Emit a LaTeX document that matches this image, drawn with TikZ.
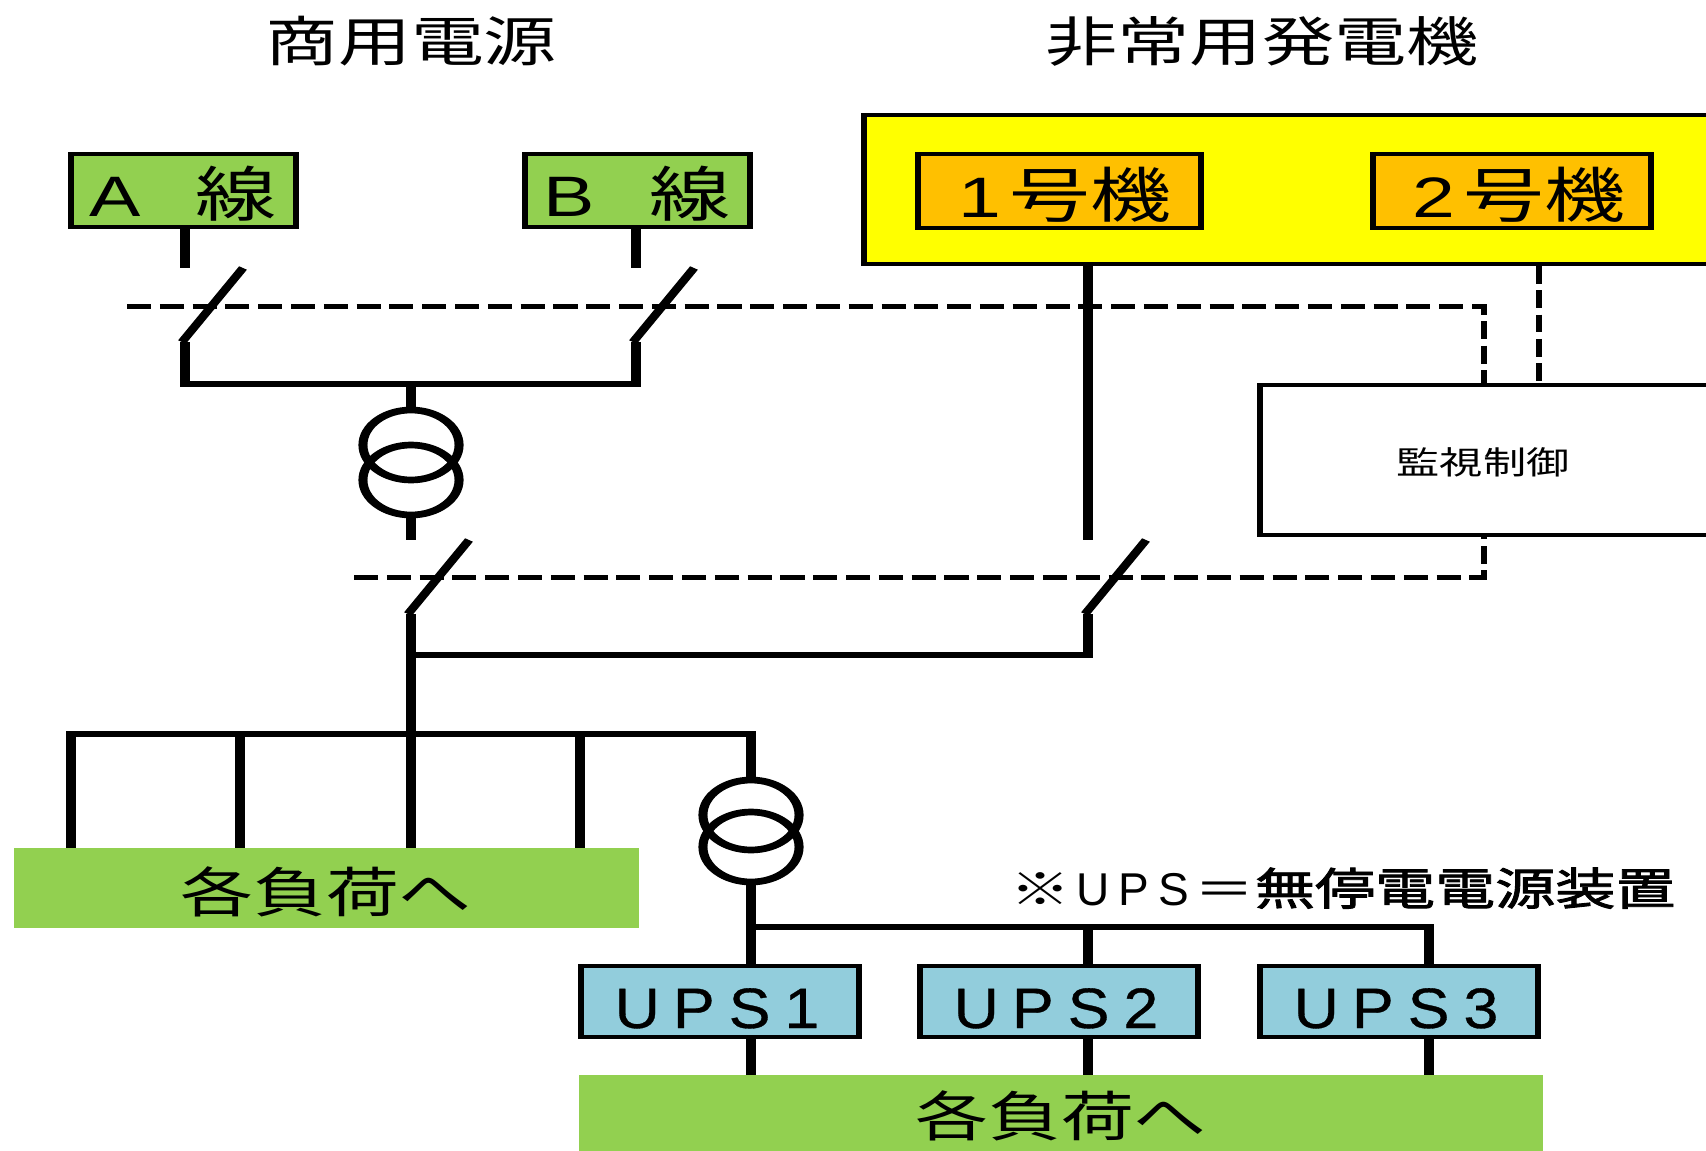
\documentclass[tikz,border=0pt]{standalone}
\usepackage{fontspec}
\setmainfont{Liberation Sans}
\newfontfamily\jp[FakeStretch=1.35]{Noto Sans CJK JP}
\newfontfamily\jpb[FakeStretch=1.35,FakeBold=2]{Noto Sans CJK JP}
\newfontfamily\lat[FakeStretch=1.35]{Liberation Sans}
\newfontfamily\latu[FakeStretch=1.1,FakeBold=0.6]{Liberation Sans}
\newfontfamily\latn{Liberation Sans}
\newcommand\fsz[1]{\fontsize{#1}{#1}\selectfont}
\definecolor{lgreen}{HTML}{92D050}
\definecolor{genyel}{HTML}{FFFF00}
\definecolor{genor}{HTML}{FFC000}
\definecolor{upsblue}{HTML}{92CDDC}
\begin{document}
\begin{tikzpicture}[x=1pt,y=-1pt,
  wire/.style={line width=6.7pt},
  ctrl/.style={line width=5pt, dash pattern=on 17.8pt off 6.5pt},
  box/.style={draw=black, line width=4.4pt, inner sep=0pt, outer sep=0pt, rectangle},
  plain/.style={inner sep=0pt, outer sep=0pt, rectangle},
  lbl/.style={anchor=base, inner sep=0pt, outer sep=0pt},
  tr/.style={line width=6.7pt, x radius=35.6pt, y radius=35pt}
]
\useasboundingbox (0,0) rectangle (1706,1151);
\clip (0,0) rectangle (1706,1151);
\fill[white] (0,0) rectangle (1706,1151);

% ===== drawing stretched horizontally like the original =====
\begin{scope}[transform canvas={xscale=1.35}, x=0.7407407pt, y=-1pt]
% ---------- named coordinates ----------
\coordinate (dashA) at (127,306);
\coordinate (mTopL) at (1484,383);
\coordinate (dashB) at (354,577);
\coordinate (mBot) at (1484,537);
\coordinate (g2bot) at (1539,266);
\coordinate (mTopR) at (1539,383);

\coordinate (aTop) at (185,229);   \coordinate (aSw) at (185,268);
\coordinate (aD1) at (243,268);    \coordinate (aD2) at (182,342);
\coordinate (aLow) at (185,342);   \coordinate (abL) at (185,384);
\coordinate (bTop) at (636,229);   \coordinate (bSw) at (636,268);
\coordinate (bD1) at (694,268);    \coordinate (bD2) at (633,342);
\coordinate (bLow) at (636,342);   \coordinate (abR) at (636,384);
\coordinate (t1in) at (411,384);   \coordinate (t1top) at (411,410);
\coordinate (t1c1) at (411,445);   \coordinate (t1c2) at (411,480);
\coordinate (t1bot) at (411,515);  \coordinate (t1sw) at (411,540);
\coordinate (cD1) at (469,540);    \coordinate (cD2) at (408,614);
\coordinate (cLow) at (411,614);   \coordinate (tie) at (411,655);
\coordinate (gTop) at (1088,266);  \coordinate (gSw) at (1088,540);
\coordinate (gD1) at (1146,540);   \coordinate (gD2) at (1085,614);
\coordinate (gLow) at (1088,614);  \coordinate (gTie) at (1088,655);
\coordinate (busM) at (411,734);
\coordinate (f1) at (71,849);      \coordinate (f1b) at (71,734);
\coordinate (f2) at (240,849);     \coordinate (f2b) at (240,734);
\coordinate (f3) at (411,849);
\coordinate (f4) at (580,849);     \coordinate (f4b) at (580,734);
\coordinate (busR) at (751,734);   \coordinate (t2top) at (751,780);
\coordinate (t2c1) at (751,815);   \coordinate (t2c2) at (751,847);
\coordinate (t2bot) at (751,882);  \coordinate (u1in) at (751,964);
\coordinate (ub1) at (751,927);    \coordinate (ub2) at (1088,927);
\coordinate (ub3) at (1429,927);
\coordinate (u2in) at (1088,964);  \coordinate (u3in) at (1429,964);
\coordinate (u1out) at (751,1039); \coordinate (u2out) at (1088,1039);
\coordinate (u3out) at (1429,1039);
\coordinate (l21) at (751,1076);   \coordinate (l22) at (1088,1076);
\coordinate (l23) at (1429,1076);

% ---------- control (dashed) lines ----------
\draw[ctrl] (dashA) -| (mTopL);
\draw[ctrl] (dashB) -| (mBot);
\draw[ctrl] (g2bot) -- (mTopR);

% ---------- power wires ----------
\draw[wire] (aTop) -- (aSw);
\draw[wire] (aD1) -- (aD2);
\draw[wire] (aLow) -- (abL) -- (abR) -- (bLow);
\draw[wire] (bTop) -- (bSw);
\draw[wire] (bD1) -- (bD2);
\draw[wire] (t1in) -- (t1top);
\draw[tr] (t1c1) ellipse [];
\draw[tr] (t1c2) ellipse [];
\draw[wire] (t1bot) -- (t1sw);
\draw[wire] (cD1) -- (cD2);
\draw[wire] (cLow) -- (busM);
\draw[wire] (tie) -- (gTie) -- (gLow);
\draw[wire] (gTop) -- (gSw);
\draw[wire] (gD1) -- (gD2);
\draw[wire] (f1) -- (f1b) -- (busR) -- (t2top);
\draw[wire] (f2b) -- (f2);
\draw[wire] (busM) -- (f3);
\draw[wire] (f4b) -- (f4);
\draw[tr] (t2c1) ellipse [];
\draw[tr] (t2c2) ellipse [];
\draw[wire] (t2bot) -- (u1in);
\draw[wire] (ub1) -- (ub3) -- (u3in);
\draw[wire] (ub2) -- (u2in);
\draw[wire] (u1out) -- (l21);
\draw[wire] (u2out) -- (l22);
\draw[wire] (u3out) -- (l23);

% ---------- boxes ----------
\node[box, fill=lgreen, minimum width=166.7pt, minimum height=72.6pt] (lineA) at (183.5,190.5) {};
\node[box, fill=lgreen, minimum width=166.7pt, minimum height=72.6pt] (lineB) at (637.5,190.5) {};
\node[box, fill=genyel, minimum width=628.2pt, minimum height=148.6pt] (genbox) at (1288,189.5) {};
\node[box, fill=genor, minimum width=209.7pt, minimum height=73.6pt] (gen1) at (1059.5,191) {};
\node[box, fill=genor, minimum width=206pt, minimum height=73.6pt] (gen2) at (1512,191) {};
\node[box, fill=white, minimum width=334.9pt, minimum height=149.6pt] (mon) at (1486,460) {};
\node[plain, fill=lgreen, minimum width=463pt, minimum height=80pt] (load1) at (326.5,888) {};
\node[plain, fill=lgreen, minimum width=714pt, minimum height=82pt] (load2) at (1061,1116) {};
\node[box, fill=upsblue, minimum width=206pt, minimum height=70.6pt] (ups1) at (720,1001.5) {};
\node[box, fill=upsblue, minimum width=206pt, minimum height=70.6pt] (ups2) at (1059,1001.5) {};
\node[box, fill=upsblue, minimum width=206pt, minimum height=70.6pt] (ups3) at (1399,1001.5) {};
\end{scope}

% ---------- texts ----------
\node[lbl] (title1) at (411,61) {\jp\fsz{54}商用電源};
\node[lbl] (title2) at (1262,61) {\jp\fsz{53.5}非常用発電機};
\node[lbl] (txtA) at (183,216) {{\lat\fsz{57}A}\hspace{55pt}{\jp\fsz{60}線}};
\node[lbl] (txtB) at (637,216) {{\lat\fsz{57}B}\hspace{55pt}{\jp\fsz{60}線}};
\node[anchor=base west, inner sep=0pt] (txtG1) at (958,217) {{\lat\fsz{57}1}\hspace{8pt}{\jp\fsz{60}号機}};
\node[anchor=base west, inner sep=0pt] (txtG2) at (1412,217) {{\lat\fsz{57}2}\hspace{8pt}{\jp\fsz{60}号機}};
\node[lbl] (txtMon) at (1483,474) {\jp\fsz{32}監視制御};
\node[lbl] (txtL1) at (326,912) {\jp\fsz{54}各負荷へ};
\node[lbl] (txtL2) at (1061,1136) {\jp\fsz{54}各負荷へ};
\node[lbl] (txtU1) at (717,1028) {\latu\fsz{57}U\hspace{13pt}P\hspace{14pt}S\hspace{14pt}1};
\node[lbl] (txtU2) at (1056,1028) {\latu\fsz{57}U\hspace{13pt}P\hspace{14pt}S\hspace{14pt}2};
\node[lbl] (txtU3) at (1396,1028) {\latu\fsz{57}U\hspace{13pt}P\hspace{14pt}S\hspace{14pt}3};
\node[anchor=base west, inner sep=0pt] (note) at (1010,905) {{\jp\fsz{44.5}※}\hspace{6pt}{\latn\fsz{46}U\hspace{9pt}P\hspace{9pt}S}\hspace{6pt}{\jp\fsz{44.5}＝}{\jpb\fsz{44.5}無停電電源装置}};
\end{tikzpicture}
\end{document}
